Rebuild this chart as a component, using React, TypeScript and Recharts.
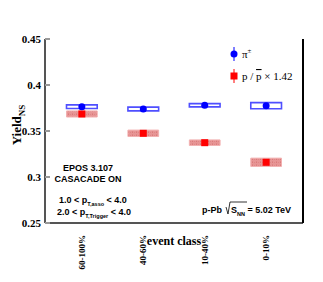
import { ComposedChart, Scatter, XAxis, YAxis, ReferenceArea, Customized } from "recharts";

const categories = ["60-100%", "40-60%", "10-40%", "0-10%"];
const xPos = [1, 2, 3, 4];
const piYield = [0.3764, 0.3739, 0.378, 0.3775];
const piSys = [0.002, 0.002, 0.0018, 0.0033];
const pYield = [0.3685, 0.3475, 0.3373, 0.316];
const pSys = [0.0033, 0.0035, 0.003, 0.0045];
const yTicks = [0.25, 0.3, 0.35, 0.4, 0.45];

const BOX_HALF = 0.25;
const serif = "'Liberation Serif', 'DejaVu Serif', serif";
const sans = "'Liberation Sans', Arial, sans-serif";

const piData = xPos.map((x, i) => ({ x, y: piYield[i] }));
const pData = xPos.map((x, i) => ({ x, y: pYield[i] }));

const Circle = (props: any) => <circle cx={props.cx} cy={props.cy} r={3.5} fill="#0000ff" />;
const Square = (props: any) => <rect x={props.cx - 3.5} y={props.cy - 3.5} width={7} height={7} fill="#ff0000" />;

const XTick = ({ x, y, payload }: any) => (
  <text
    x={0}
    y={0}
    transform={`translate(${x + 3},${y + 4}) rotate(-90)`}
    textAnchor="end"
    fontFamily={serif}
    fontWeight="bold"
    fontSize={9}
    fill="#000"
  >
    {categories[xPos.indexOf(payload.value)]}
  </text>
);

const YLabel = () => (
  <text
    transform="translate(21,125) rotate(-90)"
    textAnchor="middle"
    fontFamily={serif}
    fontWeight="bold"
    fontSize={13}
    fill="#000"
  >
    Yield<tspan fontSize={9} dy={4}>NS</tspan>
  </text>
);

// legend drawn by hand so it takes no room from the plot
const LegendBox = () => (
  <g transform="translate(228,44)">
    <line x1={6} y1={3} x2={6} y2={17} stroke="#0000ff" strokeWidth={1} />
    <circle cx={6} cy={10} r={3.5} fill="#0000ff" />
    <text x={14} y={14} fontFamily={serif} fontSize={11} fill="#000">
      π<tspan fontSize={7} dy={-5}>±</tspan>
    </text>
    <line x1={6} y1={25} x2={6} y2={39} stroke="#ff0000" strokeWidth={1} />
    <rect x={2.5} y={28.5} width={7} height={7} fill="#ff0000" />
    <text x={14} y={36} fontFamily={serif} fontSize={11} fill="#000">
      p / <tspan textDecoration="overline">p</tspan> × 1.42
    </text>
  </g>
);

const Notes = () => (
  <g fontFamily={sans} fontWeight="bold" fill="#000">
    <text x={88} y={171} fontSize={9} textAnchor="middle">EPOS 3.107</text>
    <text x={88} y={182} fontSize={9} textAnchor="middle">CASACADE ON</text>
    <text x={59} y={203} fontSize={9}>
      1.0 &lt; p<tspan fontSize={5.5} dy={3}>T,asso</tspan><tspan dy={-3}> &lt; 4.0</tspan>
    </text>
    <text x={57} y={215} fontSize={9}>
      2.0 &lt; p<tspan fontSize={5.5} dy={3}>T,Trigger</tspan><tspan dy={-3}> &lt; 4.0</tspan>
    </text>
    <text x={202} y={213} fontSize={9}>
      p-Pb
    </text>
    <path d="M226,207 L228,214 L230,202 L247,202" stroke="#000" strokeWidth={0.8} fill="none" />
    <text x={231} y={213} fontSize={9}>
      S<tspan fontSize={5.5} dy={3}>NN</tspan><tspan dy={-3}> = 5.02 TeV</tspan>
    </text>
  </g>
);

export default function App() {
  return (
    <div style={{ position: "absolute", left: 0, top: 0 }}>
      <svg width={0} height={0} style={{ position: "absolute" }}>
        <defs>
          <pattern id="pgrid" width={4} height={3} patternUnits="userSpaceOnUse">
            <rect width={4} height={3} fill="#e79595" />
            <line x1={0} y1={0} x2={4} y2={0} stroke="#cc5f5f" strokeWidth={0.6} strokeDasharray="1 1" />
            <line x1={0} y1={0} x2={0} y2={3} stroke="#cc5f5f" strokeWidth={0.6} strokeDasharray="1 1" />
          </pattern>
        </defs>
      </svg>
      <ComposedChart width={323} height={282} margin={{ top: 39, right: 0, bottom: 0, left: 0 }}>
        <XAxis
          dataKey="x"
          type="number"
          domain={[0.4, 4.6]}
          ticks={xPos}
          tick={<XTick />}
          tickLine={false}
          axisLine={{ stroke: "#555", strokeWidth: 2 }}
          height={59}
          label={{ value: "event class", position: "insideTop", offset: 13, fontFamily: serif, fontWeight: "bold", fontSize: 12, fill: "#000" }}
        />
        <YAxis
          type="number"
          domain={[0.25, 0.45]}
          ticks={yTicks}
          width={45}
          tickSize={-5}
          tickMargin={9}
          tickFormatter={(v: number) => String(v)}
          tick={{ fontFamily: serif, fontWeight: "bold", fontSize: 11, fill: "#000" }}
          tickLine={{ stroke: "#999", strokeWidth: 2 }}
          axisLine={{ stroke: "#555", strokeWidth: 2 }}
          allowDataOverflow
        />
        <YAxis
          yAxisId="r"
          orientation="right"
          type="number"
          domain={[0.25, 0.45]}
          ticks={yTicks}
          width={20}
          tickSize={-5}
          tick={false}
          tickLine={{ stroke: "#999", strokeWidth: 2 }}
          axisLine={{ stroke: "#000", strokeWidth: 2 }}
        />
        {xPos.map((x, i) => (
          <ReferenceArea
            key={`p${i}`}
            x1={x - BOX_HALF}
            x2={x + BOX_HALF}
            y1={pYield[i] - pSys[i]}
            y2={pYield[i] + pSys[i]}
            fill="url(#pgrid)"
            fillOpacity={1}
            stroke="#f2b0b0"
            strokeWidth={1}
          />
        ))}
        {xPos.map((x, i) => (
          <ReferenceArea
            key={`pi${i}`}
            x1={x - BOX_HALF}
            x2={x + BOX_HALF}
            y1={piYield[i] - piSys[i]}
            y2={piYield[i] + piSys[i]}
            fill="#ffffff"
            fillOpacity={1}
            stroke="#3030ff"
            strokeWidth={1.6}
            strokeOpacity={0.85}
          />
        ))}
        <Scatter data={pData} dataKey="y" shape={<Square />} isAnimationActive={false} />
        <Scatter data={piData} dataKey="y" shape={<Circle />} isAnimationActive={false} />
        <Customized component={LegendBox} />
        <Customized component={YLabel} />
        <Customized component={Notes} />
      </ComposedChart>
    </div>
  );
}
